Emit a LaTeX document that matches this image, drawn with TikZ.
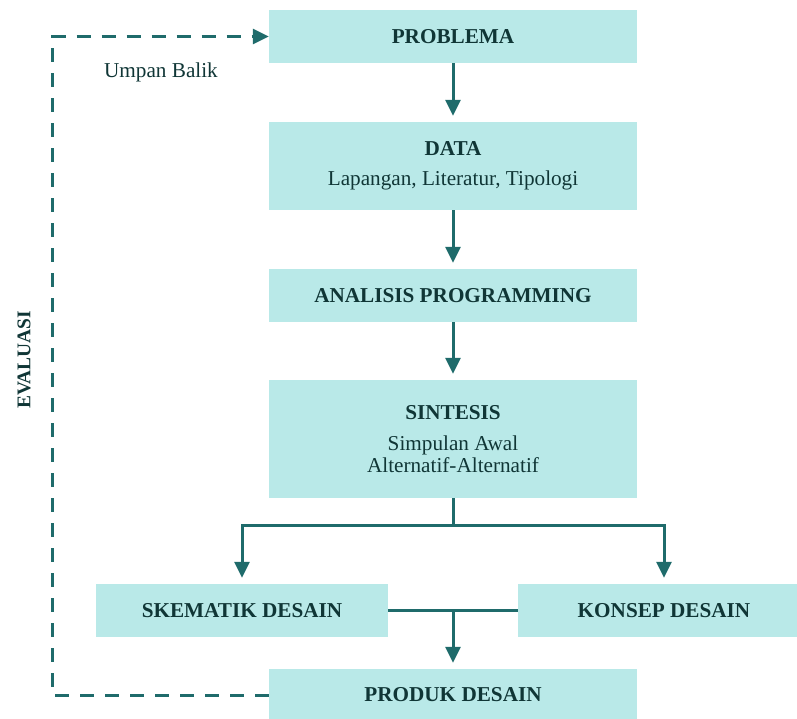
\documentclass[tikz,border=0pt]{standalone}
\usepackage{fontspec}
\setmainfont{Liberation Serif}
\usetikzlibrary{arrows.meta}
\definecolor{kotak}{HTML}{B9E9E8}
\definecolor{garis}{HTML}{1F6B6B}
\definecolor{huruf}{HTML}{103636}

\begin{document}
\begin{tikzpicture}[x=1pt,y=-1pt,
  box/.style={fill=kotak, inner sep=0pt, minimum width=368pt, minimum height=53pt,
    align=center, text=huruf, font=\fontsize{21.2}{22}\selectfont},
  flow/.style={draw=garis, line width=3pt, -{Triangle[length=16pt,width=15pt]}, shorten >=6pt},
  line/.style={draw=garis, line width=3pt},
  balik/.style={draw=garis, line width=3pt, dash pattern=on 14pt off 11pt,
    -{Triangle[length=16pt,width=15pt]}},
  label/.style={text=huruf, font=\fontsize{21.2}{22}\selectfont}]
% kerangka
\useasboundingbox (0,0) rectangle (797,718);
% kotak-kotak
\node[box] (problema) at (453,36.5) {\textbf{PROBLEMA}};
\node[box, minimum height=88pt] (data) at (453,166) {\textbf{DATA}\\[8pt]Lapangan, Literatur, Tipologi};
\node[box] (analisis) at (453,295.5) {\textbf{ANALISIS PROGRAMMING}};
\node[box, minimum height=118pt] (sintesis) at (453,439) {\textbf{SINTESIS}\\[9pt]Simpulan Awal\\Alternatif-Alternatif};
\node[box, minimum width=292pt] (skematik) at (242,610.5) {\textbf{SKEMATIK DESAIN}};
\node[box, minimum width=292pt] (konsep) at (664,610.5) {\textbf{KONSEP DESAIN}};
\node[box, minimum height=52pt] (produk) at (453,695) {\textbf{PRODUK DESAIN}};
% teks samping
\node[label] (umpan) at (161,72) {Umpan Balik};
\node[label, rotate=90, font=\fontsize{19.4}{22}\selectfont\bfseries] (evaluasi) at (24,360) {EVALUASI};
% titik bantu
\coordinate (cabang) at (453,525);
\coordinate (tengah) at (453,610.5);
\coordinate (kiri) at (52,36.5);
% panah alur
\draw[flow] (problema) -- (data);
\draw[flow] (data) -- (analisis);
\draw[flow] (analisis) -- (sintesis);
\draw[line] (sintesis.south) -- (cabang);
\draw[flow] (cabang) -| (skematik.north);
\draw[flow] (cabang) -| (konsep.north);
\draw[line] (skematik.east) -- (konsep.west);
\draw[flow] (tengah) -- (produk.north);
% umpan balik
\draw[balik] (produk.west) -| (kiri) -- (problema.west);
\end{tikzpicture}
\end{document}
